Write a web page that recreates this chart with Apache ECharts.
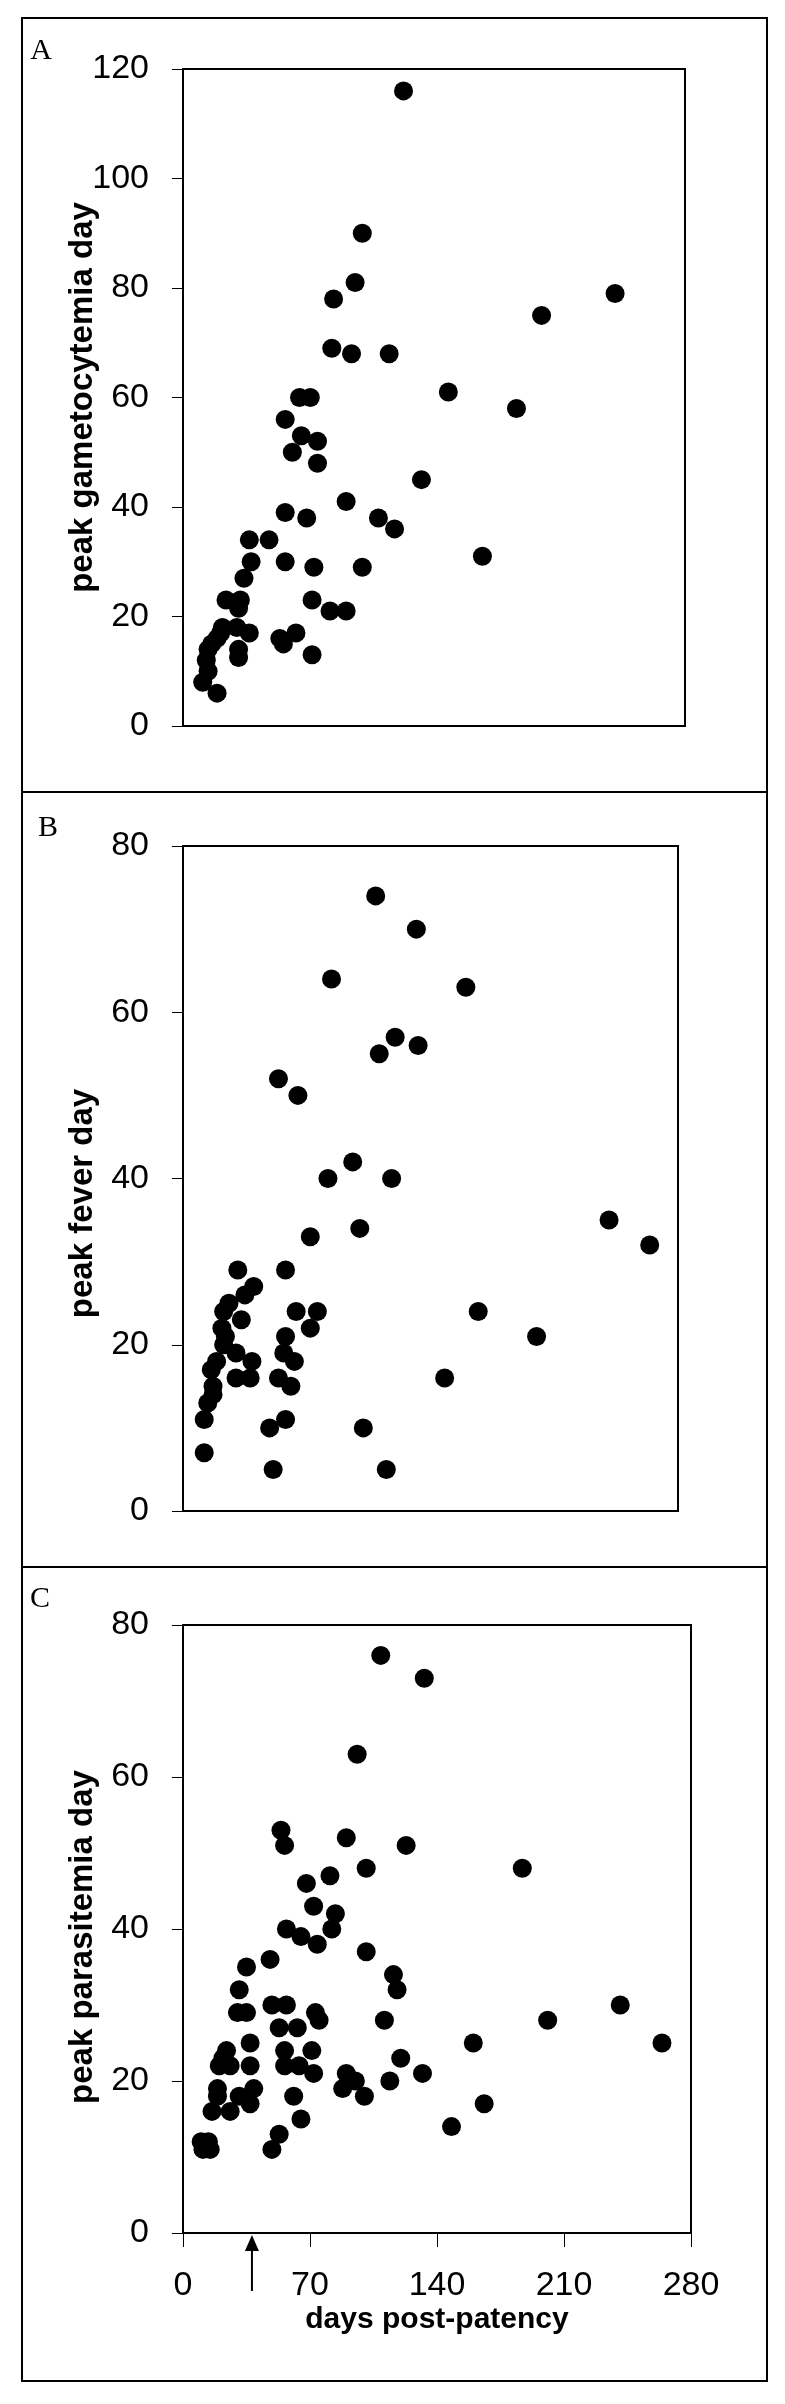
<!DOCTYPE html>
<html>
<head>
<meta charset="utf-8">
<script src="https://cdn.jsdelivr.net/npm/echarts@6/dist/echarts.min.js"></script>
<style>
  html, body { margin: 0; padding: 0; background: #fff; }
  #main { width: 785px; height: 2404px; }
</style>
</head>
<body>
<div id="main"></div>
<script>
// [days post-patency, peak day]
var gametocytemiaPts = [
  [123,116],[100,90],[96,81],[84,78],[241,79],[200,75],[83,69],[94,68],[115,68],[148,61],
  [65,60],[71,60],[186,58],[57,56],[66,53],[75,52],[61,50],[75,48],[133,45],[91,41],
  [57,39],[69,38],[109,38],[118,36],[37,34],[48,34],[167,31],[38,30],[57,30],[73,29],
  [100,29],[34,27],[24,23],[32,23],[31,21.5],[72,23],[82,21],[91,21],[22,18],[30,18],
  [37,17],[54,16],[56,15],[63,17],[72,13],[31,14],[31,12.5],[16,15],[14,14],[13,12],
  [19,16],[21,17],[11,8],[19,6],[14,10]
];
var feverPts = [
  [109,74],[132,70],[84,64],[160,63],[120,57],[111,55],[133,56],[54,52],[65,50],[96,42],
  [82,40],[118,40],[241,35],[100,34],[72,33],[264,32],[31,29],[58,29],[40,27],[35,26],
  [26,25],[23,24],[33,23],[22,22],[24,21],[23,20],[30,19],[39,18],[19,18],[30,16],
  [38,16],[16,17],[17,15],[17,14],[14,13],[12,11],[12,7],[64,24],[76,24],[167,24],
  [72,22],[200,21],[58,21],[57,19],[63,18],[54,16],[61,15],[148,16],[102,10],[58,11],
  [49,10],[51,5],[115,5]
];
var parasitemiaPts = [
  [109,76],[133,73],[96,63],[54,53],[56,51],[90,52],[123,51],[187,48],[101,48],[68,46],
  [81,47],[72,43],[84,42],[82,40],[57,40],[65,39],[74,38],[101,37],[48,36],[35,35],
  [116,34],[118,32],[31,32],[241,30],[49,30],[57,30],[30,29],[35,29],[73,29],[75,28],
  [111,28],[201,28],[53,27],[63,27],[37,25],[160,25],[264,25],[24,24],[56,24],[71,24],
  [120,23],[22,23],[20,22],[26,22],[56,22],[64,22],[37,22],[72,21],[132,21],[90,21],
  [95,20],[114,20],[88,19],[19,19],[39,19],[31,18],[19,18],[61,18],[100,18],[37,17],
  [166,17],[16,16],[26,16],[65,15],[148,14],[53,13],[49,11],[10,12],[14,12],[11,11],[15,11]
];
var yNames = ['peak gametocytemia day', 'peak fever day', 'peak parasitemia day'];
var yMax = [120, 80, 80];
var panelLetters = ['A', 'B', 'C'];
var xMax = 280, xStep = 70, yStep = 20;
var arrowDay = 38;

var grids = [
  { left: 183, top: 69,   width: 502, height: 657 },
  { left: 183, top: 846,  width: 495, height: 665 },
  { left: 183, top: 1625, width: 508, height: 608 }
];
var panels = [[18, 774], [792, 775], [1567, 814]];
var letterPos = [[41, 51], [48, 828], [40, 1599]];
var namePad = [[0, 0, 0, 0], [0, 50, 0, 0], [0, 16, 0, 0]];
var allPts = [gametocytemiaPts, feverPts, parasitemiaPts];

var chart = echarts.init(document.getElementById('main'));

var option = {
  backgroundColor: '#fff',
  animation: false,
  grid: grids.map(function (g) {
    return Object.assign({ show: true, borderColor: '#000', borderWidth: 2 }, g);
  }),
  xAxis: grids.map(function (g, i) {
    var last = i === 2;
    return {
      type: 'value', gridIndex: i, min: 0, max: xMax, interval: xStep,
      name: last ? 'days post-patency' : '',
      nameLocation: 'middle', nameGap: 72, nameMoveOverlap: false,
      nameTextStyle: { color: '#000', fontFamily: 'Arial', fontWeight: 'bold', fontSize: 30 },
      axisLine: { lineStyle: { color: '#000', width: 2 } },
      axisTick: { show: last, length: 14, lineStyle: { color: '#000', width: 1 } },
      axisLabel: { show: last, color: '#000', fontFamily: 'Arial', fontSize: 34, margin: 36 },
      splitLine: { show: false }
    };
  }),
  yAxis: grids.map(function (g, i) {
    return {
      type: 'value', gridIndex: i, min: 0, max: yMax[i], interval: yStep,
      name: yNames[i], nameLocation: 'middle', nameGap: 84, nameMoveOverlap: false,
      nameTextStyle: { color: '#000', fontFamily: 'Arial', fontWeight: 'bold', fontSize: 33,
                       padding: namePad[i] },
      axisLine: { lineStyle: { color: '#000', width: 2 } },
      axisTick: { length: 11, lineStyle: { color: '#000', width: 1 } },
      axisLabel: { color: '#000', fontFamily: 'Arial', fontSize: 34, margin: 34 },
      splitLine: { show: false }
    };
  }),
  series: allPts.map(function (pts, i) {
    return {
      type: 'scatter', xAxisIndex: i, yAxisIndex: i,
      symbol: 'circle', symbolSize: 19,
      itemStyle: { color: '#000', opacity: 1 },
      data: pts
    };
  }),
  graphic: []
};

// panel frames and letters
panels.forEach(function (p, i) {
  option.graphic.push({
    type: 'rect', shape: { x: 22, y: p[0], width: 745, height: p[1] },
    style: { fill: null, stroke: '#000', lineWidth: 2 }, silent: true
  });
  option.graphic.push({
    type: 'text', x: letterPos[i][0], y: letterPos[i][1],
    style: { text: panelLetters[i], fill: '#000', fontSize: 30, fontFamily: 'Liberation Serif, serif',
             align: 'center', verticalAlign: 'middle' }
  });
});

chart.setOption(option);

// arrow under the x axis of panel C
var pt = chart.convertToPixel({ gridIndex: 2 }, [arrowDay, 0]);
chart.setOption({
  graphic: option.graphic.concat([
    { type: 'line', shape: { x1: pt[0], y1: pt[1] + 58, x2: pt[0], y2: pt[1] + 14 },
      style: { stroke: '#000', lineWidth: 2 } },
    { type: 'polygon', shape: { points: [[pt[0] - 7, pt[1] + 18], [pt[0] + 7, pt[1] + 18], [pt[0], pt[1] + 2]] },
      style: { fill: '#000' } }
  ])
});
</script>
</body>
</html>
